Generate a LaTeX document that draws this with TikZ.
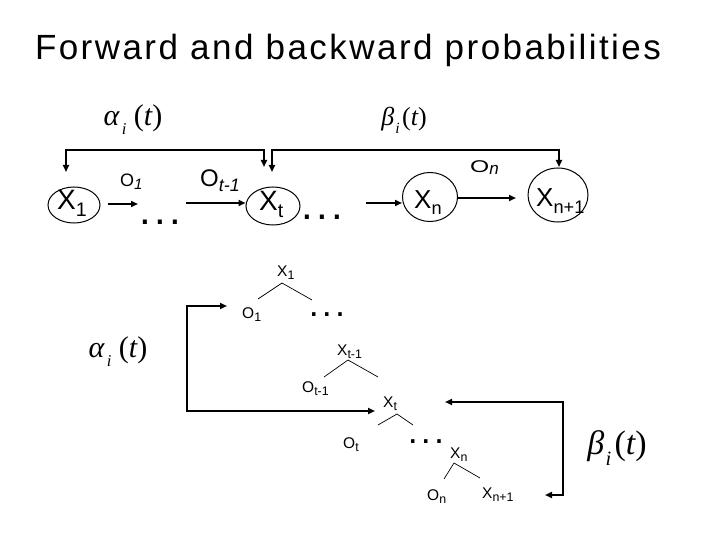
\documentclass[tikz,border=0pt]{standalone}
\usepackage{fontspec}
\setmainfont{Liberation Sans}
\newfontfamily\tms{Liberation Serif}
\newfontfamily\titlefont[LetterSpace=7]{Liberation Sans}
\usetikzlibrary{arrows.meta,shapes.geometric}
\newcommand{\lo}[1]{\raisebox{-0.25em}{\scalebox{0.7}{#1}}}
\newcommand{\tsb}[1]{\raisebox{-0.25em}{\scalebox{0.8}{#1}}}
\newcommand{\alab}{{\tms\itshape α\hspace{0.08em}\raisebox{-0.3em}{\scalebox{0.55}{i}}\hspace{0.25em}\upshape(\itshape t\upshape)}}
\newcommand{\blab}{{\tms\itshape β\hspace{0.04em}\raisebox{-0.3em}{\scalebox{0.6}{i}}\hspace{0.1em}\upshape(\itshape t\upshape)}}
\newcommand{\tdots}{.\kern3.2pt.\kern3.2pt.}
\begin{document}
\begin{tikzpicture}[x=1pt,y=-1pt,
  ell/.style={draw,ellipse,line width=1pt,inner sep=0pt},
  lbl/.style={inner sep=0pt,anchor=base west},
  conn/.style={line width=2pt,-{Triangle[length=7pt,width=6pt]}},
  both/.style={line width=2pt,{Triangle[length=7pt,width=6pt]}-{Triangle[length=7pt,width=6pt]}},
  tree/.style={line width=0.7pt},
  dots/.style={inner sep=0pt,anchor=base}]
\useasboundingbox (0,0) rectangle (720,540);
\fill[white] (0,0) rectangle (720,540);
% title
\node[inner sep=0pt,anchor=base] (title) at (348,60) {\titlefont\fontsize{35}{38}\selectfont Forward and backward probabilities};
% top chain
\node[ell,minimum width=52pt,minimum height=36pt] (X1e) at (74,205) {};
\node[ell,minimum width=54pt,minimum height=38pt] (Xte) at (273,206) {};
\node[ell,minimum width=55pt,minimum height=49pt] (Xne) at (430,197) {};
\node[ell,minimum width=60pt,minimum height=54pt] (Xn1e) at (558,195) {};
\node[lbl] (X1t) at (57,210) {\fontsize{28}{30}\selectfont X\lo{1}};
\node[lbl] (Xtt) at (259,211) {\fontsize{28}{30}\selectfont X\lo{t}};
\node[lbl] (Xnt) at (414,208) {\fontsize{26}{28}\selectfont X\lo{n}};
\node[lbl] (Xn1t) at (536,207) {\fontsize{26}{28}\selectfont X\lo{n+1}};
\node[dots] (d1) at (160,225) {\fontsize{42}{42}\selectfont\tdots};
\node[dots] (d2) at (322,220) {\fontsize{42}{42}\selectfont\tdots};
\node[lbl] (o1) at (120,187) {\fontsize{18}{20}\selectfont O\raisebox{-0.12em}{\fontsize{15}{17}\selectfont\itshape 1}};
\node[lbl] (ot1) at (200,187) {\fontsize{24}{26}\selectfont O\raisebox{-0.2em}{\scalebox{0.75}{\itshape t-1}}};
\node[lbl] (on) at (470,173) {\fontsize{17}{20}\selectfont \scalebox{1.45}[1]{O}\raisebox{-0.1em}{\itshape n}};
\node[inner sep=0pt] (alpha1) at (133,120) {\fontsize{30}{32}\selectfont\alab};
\node[inner sep=0pt] (beta1) at (404,120) {\fontsize{26}{28}\selectfont\blab};
\coordinate (a1s) at (108,204); \coordinate (a1e) at (138,204);
\coordinate (a2s) at (186,203);
\coordinate (a3s) at (366,203);
\coordinate (a4e) at (516,198);
\draw[conn] (a1s) -- (a1e);
\draw[conn] (a2s) -- (Xte.west |- a2s);
\draw[conn] (a3s) -- (Xne.west |- a3s);
\draw[conn] (Xne.east |- a4e) -- (a4e);
\coordinate (fa1) at (66,172); \coordinate (fa2) at (264,167);
\coordinate (fb1) at (272,172); \coordinate (fb2) at (559,167);
\draw[both] (fa1) -- (66,150) -- (264,150) -- (fa2);
\draw[both] (fb1) -- (272,150) -- (559,150) -- (fb2);
% lower tree
\node[lbl] (tX1) at (277,276) {\fontsize{15.5}{17}\selectfont X\tsb{1}};
\node[lbl] (tO1) at (242,318) {\fontsize{15.5}{17}\selectfont O\tsb{1}};
\node[dots] (td1) at (327,316) {\fontsize{36}{36}\selectfont\tdots};
\node[lbl] (tXt1) at (337,355) {\fontsize{15.5}{17}\selectfont X\tsb{t-1}};
\node[lbl] (tOt1) at (302,392) {\fontsize{15.5}{17}\selectfont O\tsb{t-1}};
\node[lbl] (tXt) at (383,407) {\fontsize{15.5}{17}\selectfont X\tsb{t}};
\node[lbl] (tOt) at (343,448) {\fontsize{15.5}{17}\selectfont O\tsb{t}};
\node[dots] (td2) at (426,443) {\fontsize{36}{36}\selectfont\tdots};
\node[lbl] (tXn) at (450,458) {\fontsize{15.5}{17}\selectfont X\tsb{n}};
\node[lbl] (tOn) at (427,500) {\fontsize{15.5}{17}\selectfont O\tsb{n}};
\node[lbl] (tXn1) at (482,498) {\fontsize{15.5}{17}\selectfont X\tsb{n+1}};
\draw[tree] (258,299) -- (282,283) -- (312,300);
\draw[tree] (324,377) -- (348,360) -- (378,377);
\draw[tree] (378,425) -- (397,414) -- (413,425);
\draw[tree] (444,479) -- (454,463) -- (480,478);
\node[inner sep=0pt] (alpha2) at (118,352) {\fontsize{30}{32}\selectfont\alab};
\node[inner sep=0pt] (beta2) at (617,448) {\fontsize{34}{36}\selectfont\blab};
\coordinate (la1) at (227,306); \coordinate (la2) at (375,411);
\coordinate (rb1) at (445,402); \coordinate (rb2) at (545,495);
\draw[both] (la1) -- (187,306) -- (187,411) -- (la2);
\draw[both] (rb1) -- (563,402) -- (563,495) -- (rb2);
\end{tikzpicture}
\end{document}
